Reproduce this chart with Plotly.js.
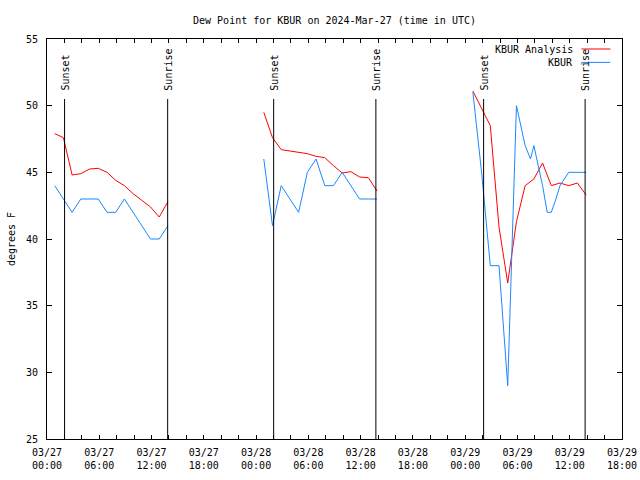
<!DOCTYPE html>
<html><head><meta charset="utf-8">
<script src="https://cdn.plot.ly/plotly-3.0.1.min.js"></script>
<style>html,body{margin:0;padding:0;background:#fff}#chart{width:640px;height:480px}</style>
</head><body><div id="chart"></div>
<script>
// KBUR Analysis (red)
const analysisTimes = [
  '2024-03-27 00:53','2024-03-27 01:53','2024-03-27 02:53','2024-03-27 03:53','2024-03-27 04:53','2024-03-27 05:53','2024-03-27 06:53',
  '2024-03-27 07:53','2024-03-27 08:53','2024-03-27 09:53','2024-03-27 10:53','2024-03-27 11:53','2024-03-27 12:53','2024-03-27 13:53',
  '2024-03-27 19:00',
  '2024-03-28 00:53','2024-03-28 01:53','2024-03-28 02:53','2024-03-28 03:53','2024-03-28 04:53','2024-03-28 05:53','2024-03-28 06:53',
  '2024-03-28 07:53','2024-03-28 08:53','2024-03-28 09:53','2024-03-28 10:53','2024-03-28 11:53','2024-03-28 12:53','2024-03-28 13:53',
  '2024-03-28 19:00',
  '2024-03-29 00:53','2024-03-29 01:53','2024-03-29 02:53','2024-03-29 03:53','2024-03-29 04:53','2024-03-29 05:53','2024-03-29 06:53',
  '2024-03-29 07:53','2024-03-29 08:53','2024-03-29 09:53','2024-03-29 10:53','2024-03-29 11:53','2024-03-29 12:53','2024-03-29 13:53'
];
const analysisDewpoint = [
  47.9, 47.6, 44.8, 44.9, 45.25, 45.3, 45.0, 44.4, 44.0, 43.4, 42.9, 42.4, 41.65, 42.8,
  null,
  49.5, 47.6, 46.7, 46.6, 46.45, 46.4, 46.2, 46.1, 45.5, 44.95, 45.05, 44.65, 44.6, 43.6,
  null,
  51.1, 49.8, 48.5, 40.9, 36.7, 41.3, 44.0, 44.5, 45.7, 44.0, 44.2, 44.0, 44.2, 43.3
];
// KBUR observations (blue)
const obsTimes = [
  '2024-03-27 00:53','2024-03-27 01:53','2024-03-27 02:53','2024-03-27 03:53','2024-03-27 04:53','2024-03-27 05:53','2024-03-27 06:53',
  '2024-03-27 07:53','2024-03-27 08:53','2024-03-27 09:53','2024-03-27 10:53','2024-03-27 11:53','2024-03-27 12:53','2024-03-27 13:53',
  '2024-03-27 19:00',
  '2024-03-28 00:53','2024-03-28 01:53','2024-03-28 02:53','2024-03-28 03:53','2024-03-28 04:53','2024-03-28 05:53','2024-03-28 06:53',
  '2024-03-28 07:53','2024-03-28 08:53','2024-03-28 09:53','2024-03-28 10:53','2024-03-28 11:53','2024-03-28 12:53','2024-03-28 13:53',
  '2024-03-28 19:00',
  '2024-03-29 00:53','2024-03-29 01:53','2024-03-29 02:53','2024-03-29 03:53','2024-03-29 04:53','2024-03-29 05:53','2024-03-29 06:53',
  '2024-03-29 07:30','2024-03-29 07:53','2024-03-29 08:53','2024-03-29 09:25','2024-03-29 09:53','2024-03-29 10:25','2024-03-29 10:53',
  '2024-03-29 11:53','2024-03-29 12:53','2024-03-29 13:53'
];
const obsDewpoint = [
  44, 43, 42, 43, 43, 43, 42, 42, 43, 42, 41, 40, 40, 41,
  null,
  46, 41, 44, 43, 42, 45, 46, 44, 44, 45, 44, 43, 43, 43,
  null,
  51, 45, 38, 38, 29, 50, 47, 46, 47, 44, 42, 42, 43, 44, 45, 45, 45
];
const sunsetTimes = ['2024-03-27 02:01','2024-03-28 02:01','2024-03-29 02:07'];
const sunriseTimes = ['2024-03-27 13:51','2024-03-28 13:45','2024-03-29 13:46'];
const tickTimes = ['2024-03-27 00:00','2024-03-27 06:00','2024-03-27 12:00','2024-03-27 18:00',
  '2024-03-28 00:00','2024-03-28 06:00','2024-03-28 12:00','2024-03-28 18:00',
  '2024-03-29 00:00','2024-03-29 06:00','2024-03-29 12:00','2024-03-29 18:00'];
const tickLabels = ['03/27<br>00:00','03/27<br>06:00','03/27<br>12:00','03/27<br>18:00',
  '03/28<br>00:00','03/28<br>06:00','03/28<br>12:00','03/28<br>18:00',
  '03/29<br>00:00','03/29<br>06:00','03/29<br>12:00','03/29<br>18:00'];
const yTicks = [25, 30, 35, 40, 45, 50, 55];

const FONT = 'DejaVu Sans Mono, monospace';
const RED = '#ff0000', BLUE = '#1a88ff';

const traces = [
  {x: analysisTimes, y: analysisDewpoint, type: 'scatter', mode: 'lines', name: 'KBUR Analysis',
   line: {color: RED, width: 1}, connectgaps: false, showlegend: false},
  {x: obsTimes, y: obsDewpoint, type: 'scatter', mode: 'lines', name: 'KBUR',
   line: {color: BLUE, width: 1}, connectgaps: false, showlegend: false}
];

const shapes = [];
const annotations = [];
function addSun(t, label) {
  shapes.push({type: 'line', xref: 'x', yref: 'y', x0: t, x1: t, y0: 25, y1: 50.5,
    line: {color: '#000', width: 1}});
  annotations.push({xref: 'x', yref: 'y', x: t, y: 50.95, text: label, textangle: -90,
    showarrow: false, xanchor: 'center', yanchor: 'bottom', font: {family: FONT, size: 10, color: '#000'}});
}
sunsetTimes.forEach(t => addSun(t, 'Sunset'));
sunriseTimes.forEach(t => addSun(t, 'Sunrise'));

// key (gnuplot style: text then sample)
[['KBUR Analysis', RED, 0.975], ['KBUR', BLUE, 0.9415]].forEach(([txt, col, yy]) => {
  annotations.push({xref: 'paper', yref: 'paper', x: 0.9176, y: yy, text: txt, showarrow: false,
    xanchor: 'right', yanchor: 'middle', font: {family: FONT, size: 10, color: '#000'}});
  shapes.push({type: 'line', xref: 'paper', yref: 'paper', x0: 0.9294, x1: 0.9798, y0: yy, y1: yy,
    line: {color: col, width: 1}});
});

const layout = {
  width: 640, height: 480,
  margin: {l: 47, r: 18, t: 39, b: 41, pad: 0},
  paper_bgcolor: '#fff', plot_bgcolor: '#fff',
  font: {family: FONT, size: 10, color: '#000'},
  title: {text: 'Dew Point for KBUR on 2024-Mar-27 (time in UTC)', font: {family: FONT, size: 10, color: '#000'},
    x: 0.5, xref: 'paper', xanchor: 'center', y: 1 - 20 / 480, yref: 'container', yanchor: 'middle'},
  xaxis: {
    type: 'date', range: ['2024-03-27 00:00', '2024-03-29 18:00'],
    tickmode: 'array', tickvals: tickTimes, ticktext: tickLabels,
    ticks: 'inside', ticklen: 4, tickcolor: '#000', tickwidth: 1,
    minor: {dtick: 7200000, ticks: 'inside', ticklen: 4, tickcolor: '#000', showgrid: false},
    showline: true, linecolor: '#000', linewidth: 1, mirror: 'ticks',
    showgrid: false, zeroline: false, tickfont: {family: FONT, size: 10, color: '#000'},
    ticklabelstandoff: 4
  },
  yaxis: {
    range: [25, 55], tickmode: 'array', tickvals: yTicks, ticktext: yTicks.map(String),
    ticks: 'inside', ticklen: 5, tickcolor: '#000', tickwidth: 1,
    showline: true, linecolor: '#000', linewidth: 1, mirror: 'ticks',
    showgrid: false, zeroline: false, tickfont: {family: FONT, size: 10, color: '#000'},
    ticklabelstandoff: 6,
    title: {text: 'degrees F', font: {family: FONT, size: 10, color: '#000'}, standoff: 8}
  },
  shapes: shapes, annotations: annotations, showlegend: false
};

Plotly.newPlot('chart', traces, layout, {staticPlot: true, displayModeBar: false});
</script>
</body></html>
